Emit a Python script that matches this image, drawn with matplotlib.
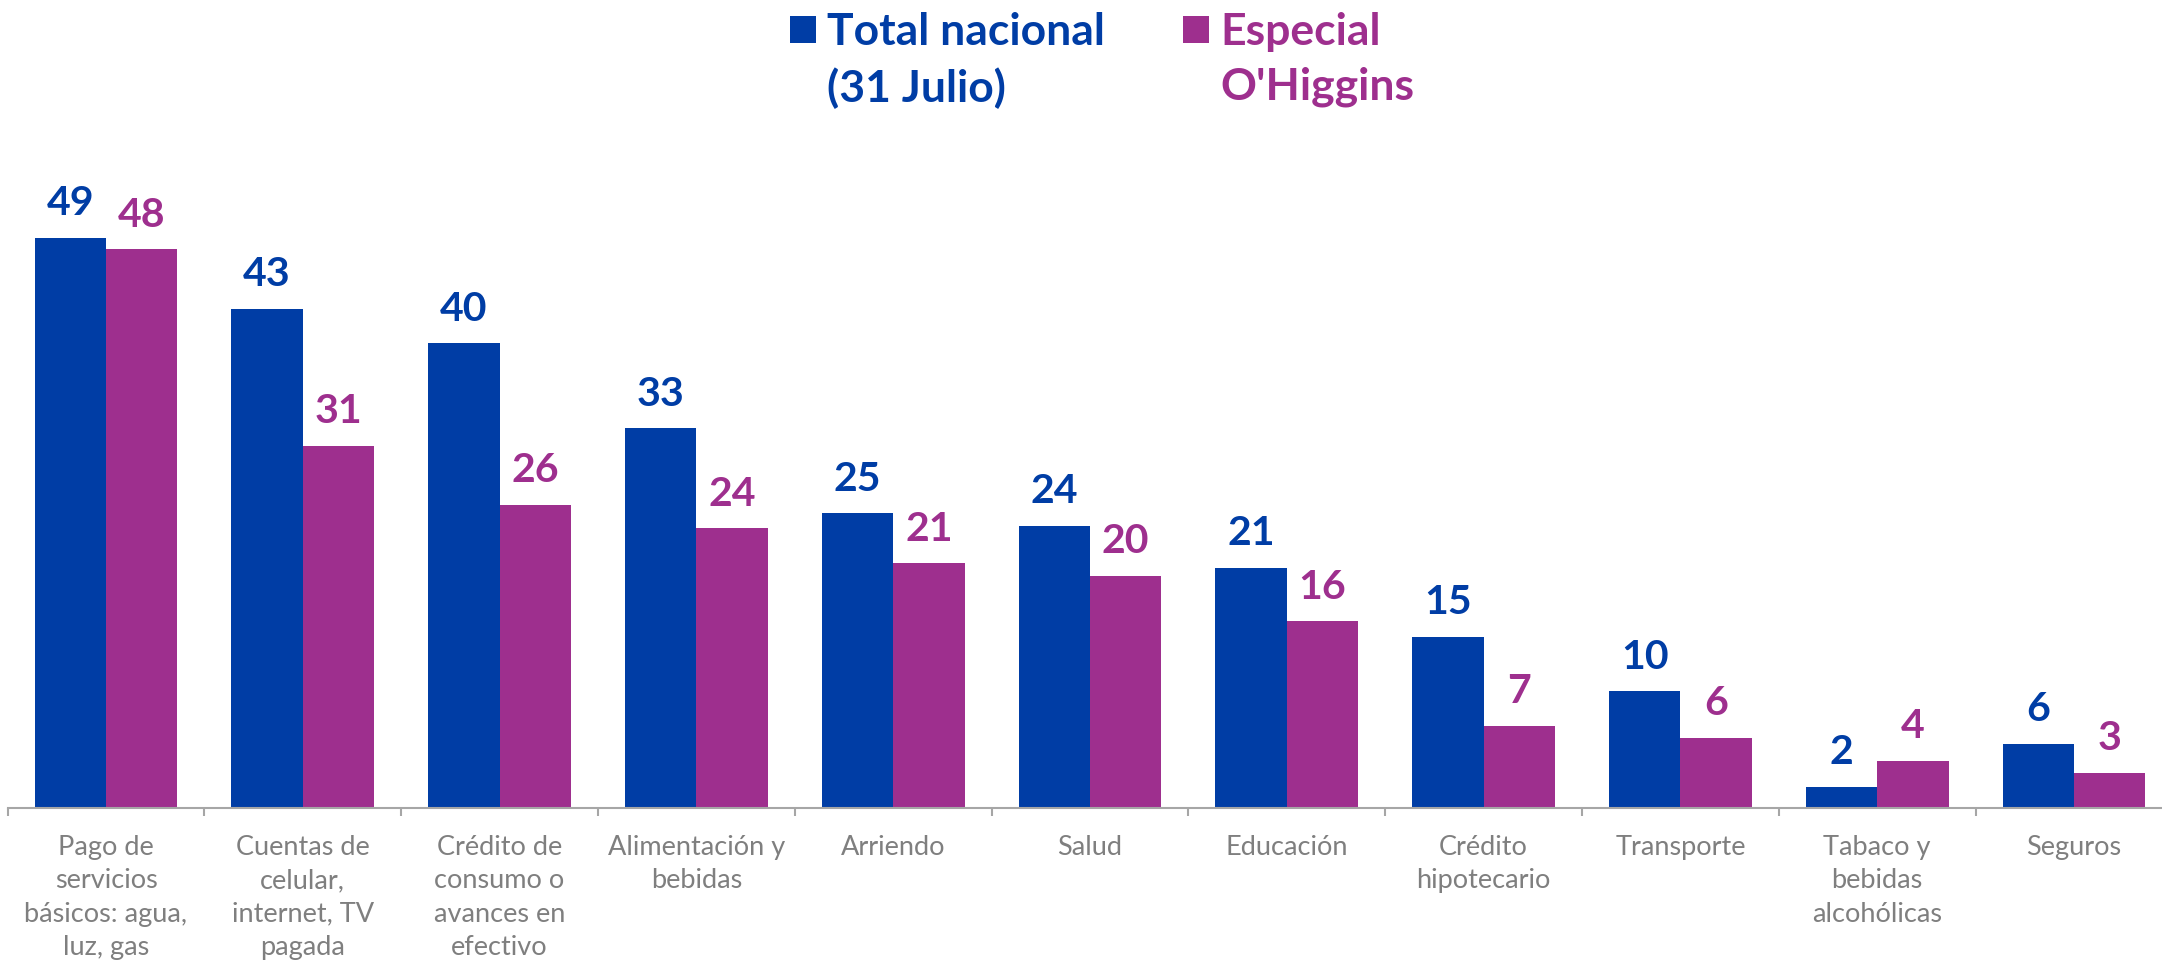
import matplotlib
matplotlib.use("Agg")
import matplotlib.pyplot as plt
import numpy as np
from matplotlib.patches import Rectangle

categories = [
    "Pago de\nservicios\nbásicos: agua,\nluz, gas",
    "Cuentas de\ncelular,\ninternet, TV\npagada",
    "Crédito de\nconsumo o\navances en\nefectivo",
    "Alimentación y\nbebidas",
    "Arriendo",
    "Salud",
    "Educación",
    "Crédito\nhipotecario",
    "Transporte",
    "Tabaco y\nbebidas\nalcohólicas",
    "Seguros",
]
total_nacional = [49.0, 42.9, 39.9, 32.6, 25.3, 24.2, 20.6, 14.7, 10.0, 1.8, 5.5]
especial_ohiggins = [48.0, 31.1, 26.0, 24.0, 21.0, 19.9, 16.0, 7.0, 6.0, 4.0, 3.0]
series_names = ["Total nacional\n(31 Julio)", "Especial\nO'Higgins"]

blue = "#003DA5"
purple = "#9E2F8E"
gray_text = "#7F7F7F"
gray_line = "#A6A6A6"

plt.rcParams["font.family"] = ["Lato", "DejaVu Sans"]

W, H = 2162, 970
fig = plt.figure(figsize=(W / 100, H / 100), dpi=100)
ax = fig.add_axes([7.6 / W, (H - 808.5) / H, 11 * 196.8 / W, 60 * 11.63 / H])

x = np.arange(len(categories))
w = 0.363
b1 = ax.bar(x - w / 2, total_nacional, w, color=blue, edgecolor="none")
b2 = ax.bar(x + w / 2, especial_ohiggins, w, color=purple, edgecolor="none")

for bars, vals, col in [(b1, total_nacional, blue), (b2, especial_ohiggins, purple)]:
    for rect, v in zip(bars, vals):
        ax.annotate(f"{v:.0f}", (rect.get_x() + rect.get_width() / 2, v),
                    xytext=(0, 12), textcoords="offset points",
                    ha="center", va="bottom", fontsize=29.5, fontweight="bold", color=col)

ax.set_xlim(-0.5, len(categories) - 0.5)
ax.set_ylim(0, 60)
ax.set_yticks([])
for s in ["left", "right", "top"]:
    ax.spines[s].set_visible(False)
ax.spines["bottom"].set_color(gray_line)
ax.spines["bottom"].set_linewidth(1.5)

ax.set_xticks(x, categories, fontsize=19.5, color=gray_text, linespacing=1.42)
ax.set_xticks(np.arange(len(categories) + 1) - 0.5, minor=True)
ax.tick_params(axis="x", which="major", length=0, pad=19)
ax.tick_params(axis="x", which="minor", length=6, width=1.5, color=gray_line)

# legend
for px, name, col in [(790, series_names[0], blue), (1183, series_names[1], purple)]:
    fig.add_artist(Rectangle((px / W, 1 - 44 / H), 26 / W, 27 / H,
                             transform=fig.transFigure, color=col, lw=0))
    fig.text((px + 37) / W, 1 - 12 / H, name, ha="left", va="top",
             fontsize=32, fontweight="bold", color=col, linespacing=1.44)

fig.savefig("out.png", dpi=100)
